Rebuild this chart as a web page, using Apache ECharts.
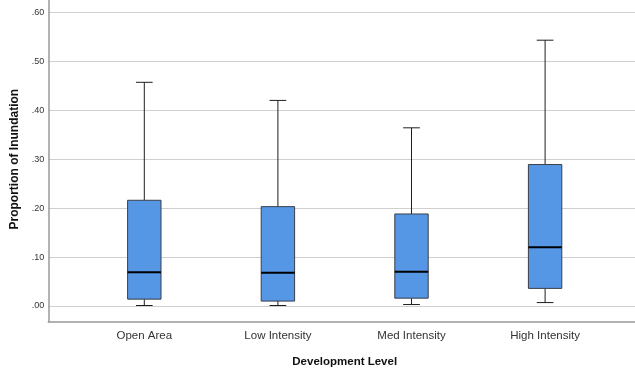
<!DOCTYPE html>
<html>
<head>
<meta charset="utf-8">
<script src="https://cdn.jsdelivr.net/npm/echarts@6/dist/echarts.min.js"></script>
<style>html,body{margin:0;padding:0;background:#fff}#c{width:635px;height:368px}</style>
</head>
<body>
<div id="c"></div>
<script>
var categories = ['Open Area', 'Low Intensity', 'Med Intensity', 'High Intensity'];
var whiskerLow = [0.001, 0.001, 0.003, 0.007];
var q1 = [0.014, 0.010, 0.016, 0.036];
var median = [0.069, 0.068, 0.070, 0.120];
var q3 = [0.216, 0.203, 0.188, 0.289];
var whiskerHigh = [0.457, 0.420, 0.364, 0.543];
var xTitle = 'Development Level';
var yTitle = 'Proportion of Inundation';

var data = categories.map(function (c, i) {
  return [i, whiskerLow[i], q1[i], median[i], q3[i], whiskerHigh[i]];
});

var FONT = 'Liberation Sans, Arial, sans-serif';
var chart = echarts.init(document.getElementById('c'), null, {renderer: 'canvas'});

function renderItem(params, api) {
  var xi = api.value(0);
  var band = api.size([1, 0])[0];
  var bw = band * 0.25, cw = band * 0.125;
  var pMin = api.coord([xi, api.value(1)]);
  var pQ1 = api.coord([xi, api.value(2)]);
  var pMed = api.coord([xi, api.value(3)]);
  var pQ3 = api.coord([xi, api.value(4)]);
  var pMax = api.coord([xi, api.value(5)]);
  var cx = pMed[0];
  var wStyle = {stroke: '#1e1e1e', lineWidth: 1, fill: null};
  return {
    type: 'group',
    children: [
      {type: 'line', shape: {x1: cx, y1: pQ3[1], x2: cx, y2: pMax[1]}, style: wStyle},
      {type: 'line', shape: {x1: cx, y1: pMin[1], x2: cx, y2: pQ1[1]}, style: wStyle},
      {type: 'line', shape: {x1: cx - cw / 2, y1: pMax[1], x2: cx + cw / 2, y2: pMax[1]}, style: wStyle},
      {type: 'line', shape: {x1: cx - cw / 2, y1: pMin[1], x2: cx + cw / 2, y2: pMin[1]}, style: wStyle},
      {type: 'rect', shape: {x: cx - bw / 2, y: pQ3[1], width: bw, height: pQ1[1] - pQ3[1]},
        style: {fill: '#5596e5', stroke: '#3a3f48', lineWidth: 1}},
      {type: 'line', shape: {x1: cx - bw / 2, y1: pMed[1], x2: cx + bw / 2, y2: pMed[1]},
        style: {stroke: '#000', lineWidth: 2}}
    ]
  };
}

var option = {
  animation: false,
  backgroundColor: '#fff',
  grid: [
    {left: 77.5, right: 23.1, top: 12.3, height: 293.7, containLabel: false, outerBoundsMode: 'none'},
    {left: 48.3, right: 0, top: 12.3, height: 293.7, containLabel: false, outerBoundsMode: 'none'},
    {left: 48.3, right: 0, top: 0, height: 322, containLabel: false, outerBoundsMode: 'none'}
  ],
  xAxis: [
    {type: 'category', gridIndex: 0, data: categories, boundaryGap: true,
      axisLine: {show: false}, axisTick: {show: false},
      axisLabel: {margin: 24, fontSize: 11.5, color: '#333', fontFamily: FONT},
      name: xTitle, nameLocation: 'middle', nameGap: 50,
      nameTextStyle: {fontSize: 11.5, fontWeight: 'bold', color: '#111', fontFamily: FONT}},
    {type: 'value', gridIndex: 1, show: false, min: 0, max: 1},
    {type: 'value', gridIndex: 2, min: 0, max: 1,
      axisLine: {show: true, onZero: false, lineStyle: {color: '#999', width: 1.5}},
      axisTick: {show: false}, axisLabel: {show: false}, splitLine: {show: false}}
  ],
  yAxis: [
    {type: 'value', gridIndex: 0, min: 0, max: 0.6, show: false},
    {type: 'value', gridIndex: 1, min: 0, max: 0.6, interval: 0.1,
      axisLine: {show: false}, axisTick: {show: false},
      axisLabel: {margin: 4, fontSize: 9, color: '#333', fontFamily: FONT,
        formatter: function (v) { return v.toFixed(2).replace(/^0/, ''); }},
      splitLine: {show: true, lineStyle: {color: '#cfcfcf', width: 1}},
      name: yTitle, nameLocation: 'middle', nameGap: 21, nameRotate: 90,
      nameTextStyle: {fontSize: 12, fontWeight: 'bold', color: '#111', fontFamily: FONT}},
    {type: 'value', gridIndex: 2, min: 0, max: 1,
      axisLine: {show: true, onZero: false, lineStyle: {color: '#999', width: 1.5}},
      axisTick: {show: false}, axisLabel: {show: false}, splitLine: {show: false}}
  ],
  series: [{
    type: 'custom',
    xAxisIndex: 0, yAxisIndex: 0,
    renderItem: renderItem,
    encode: {x: 0, y: [1, 2, 3, 4, 5]},
    data: data
  }]
};
chart.setOption(option);
</script>
</body>
</html>
